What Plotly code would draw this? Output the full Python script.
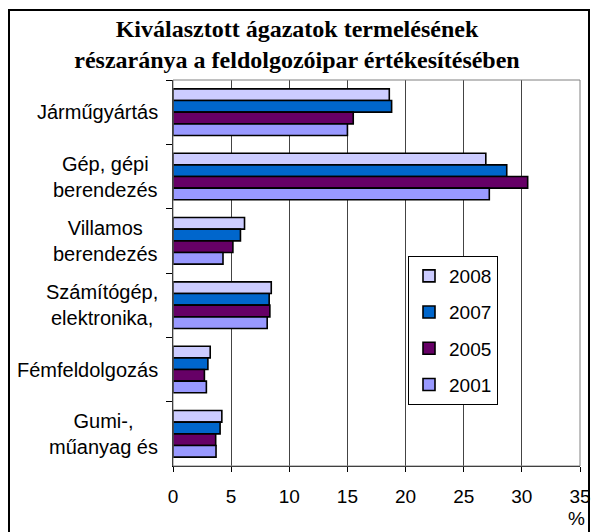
import plotly.graph_objects as go

categories = ["Járműgyártás", "Gép, gépi<br>berendezés", "Villamos<br>berendezés",
              "Számítógép,<br>elektronika,", "Fémfeldolgozás", "Gumi-,<br>műanyag és"]
years = ["2008", "2007", "2005", "2001"]
v2008 = [18.6, 26.9, 6.15, 8.45, 3.2, 4.2]
v2007 = [18.8, 28.7, 5.8, 8.27, 3.0, 4.05]
v2005 = [15.5, 30.5, 5.15, 8.33, 2.7, 3.67]
v2001 = [15.0, 27.2, 4.3, 8.1, 2.87, 3.7]
series = [v2008, v2007, v2005, v2001]
colors = ["#CCCCFF", "#0066CC", "#660066", "#9999FF"]
x_ticks = [0, 5, 10, 15, 20, 25, 30, 35]

W, H = 594, 532
L, R, T, B = 173, 14, 80, 66
pw, ph = W - L - R, H - T - B

def px(p):
    return (p - L) / pw

def py(p):
    return (H - B - p) / ph

fig = go.Figure()
for yr, vals, c in zip(years, series, colors):
    fig.add_trace(go.Bar(
        y=categories, x=vals, name=yr, orientation="h",
        marker=dict(color=c, line=dict(color="black", width=1.6)),
        legendgroup=yr,
    ))

FONT = "Liberation Sans, Arial, sans-serif"

annotations = []
for cat in categories:
    annotations.append(dict(
        x=px(160), xref="paper", y=cat, yref="y", text=cat,
        showarrow=False, xanchor="right", yanchor="middle", align="center",
        font=dict(family=FONT, size=20, color="black"),
    ))
annotations.append(dict(
    x=px(576), xref="paper", y=py(518), yref="paper", text="%",
    showarrow=False, xanchor="center", yanchor="middle",
    font=dict(family=FONT, size=19, color="black"),
))

fig.update_layout(
    template="none",
    width=W, height=H, autosize=False,
    margin=dict(l=L, r=R, t=T, b=B, pad=0),
    paper_bgcolor="white", plot_bgcolor="white",
    barmode="group", bargap=0.275, bargroupgap=0,
    title=dict(
        text="<b>Kiválasztott ágazatok termelésének<br>részaránya a feldolgozóipar értékesítésében</b>",
        x=0.5, xref="container", xanchor="center",
        y=1 - 37 / H, yref="container", yanchor="middle",
        font=dict(family="Liberation Serif, Times New Roman, serif", size=24, color="black"),
    ),
    xaxis=dict(
        range=[0, 35], tickvals=x_ticks, ticktext=[str(t) for t in x_ticks],
        showgrid=True, gridcolor="#444444", gridwidth=1,
        showline=True, linecolor="black", linewidth=1,
        ticks="outside", ticklen=5, tickcolor="black", tickwidth=1,
        tickfont=dict(family=FONT, size=19, color="black"),
        ticklabelstandoff=8,
        zeroline=False, fixedrange=True, automargin=False,
    ),
    yaxis=dict(
        autorange="reversed", type="category",
        showticklabels=False, showgrid=False,
        showline=True, linecolor="black", linewidth=1,
        ticks="outside", ticklen=6, tickcolor="black", tickwidth=1,
        tickson="boundaries",
        zeroline=False, automargin=False, fixedrange=True,
    ),
    legend=dict(
        x=px(408), y=py(256), xanchor="left", yanchor="top",
        bgcolor="white", bordercolor="black", borderwidth=1,
        font=dict(family=FONT, size=19, color="black"),
        tracegroupgap=8.5, traceorder="grouped",
    ),
    annotations=annotations,
    shapes=[
        dict(type="rect", xref="paper", yref="paper", x0=0, x1=1, y0=0, y1=1,
             line=dict(color="#808080", width=1), layer="above"),
        dict(type="rect", xref="paper", yref="paper",
             x0=px(9), x1=px(589), y0=py(545), y1=py(10),
             line=dict(color="black", width=2), layer="above"),
    ],
    showlegend=True,
)

fig.write_html(
    "out.html",
    config={"displayModeBar": False},
    post_script="document.body.style.margin='0';document.body.style.overflow='hidden';window.scrollTo(0,0);",
)
